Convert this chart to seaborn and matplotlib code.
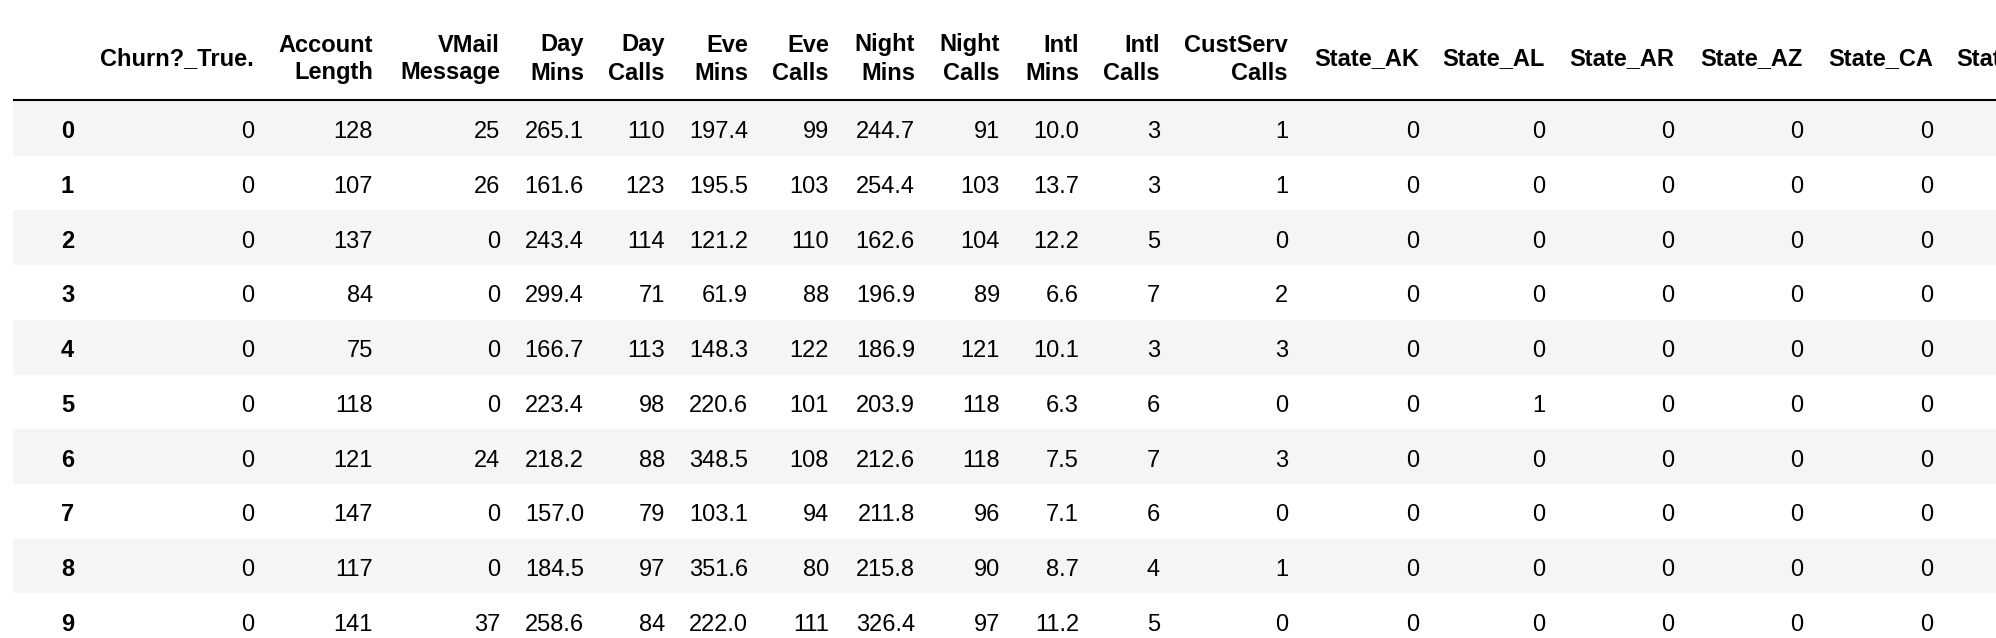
import matplotlib
matplotlib.use("Agg")
import matplotlib.pyplot as plt
import seaborn as sns

# table contents (first rows of the one-hot encoded churn frame)
index = [0, 1, 2, 3, 4, 5, 6, 7, 8, 9]
columns = ["Churn?_True.", "Account Length", "VMail Message", "Day Mins", "Day Calls",
           "Eve Mins", "Eve Calls", "Night Mins", "Night Calls", "Intl Mins", "Intl Calls",
           "CustServ Calls", "State_AK", "State_AL", "State_AR", "State_AZ", "State_CA",
           "State_CO"]

churn = [0, 0, 0, 0, 0, 0, 0, 0, 0, 0]
account_length = [128, 107, 137, 84, 75, 118, 121, 147, 117, 141]
vmail_message = [25, 26, 0, 0, 0, 0, 24, 0, 0, 37]
day_mins = [265.1, 161.6, 243.4, 299.4, 166.7, 223.4, 218.2, 157.0, 184.5, 258.6]
day_calls = [110, 123, 114, 71, 113, 98, 88, 79, 97, 84]
eve_mins = [197.4, 195.5, 121.2, 61.9, 148.3, 220.6, 348.5, 103.1, 351.6, 222.0]
eve_calls = [99, 103, 110, 88, 122, 101, 108, 94, 80, 111]
night_mins = [244.7, 254.4, 162.6, 196.9, 186.9, 203.9, 212.6, 211.8, 215.8, 326.4]
night_calls = [91, 103, 104, 89, 121, 118, 118, 96, 90, 97]
intl_mins = [10.0, 13.7, 12.2, 6.6, 10.1, 6.3, 7.5, 7.1, 8.7, 11.2]
intl_calls = [3, 3, 5, 7, 3, 6, 7, 6, 4, 5]
custserv_calls = [1, 1, 0, 2, 3, 0, 3, 0, 1, 0]
state_ak = [0, 0, 0, 0, 0, 0, 0, 0, 0, 0]
state_al = [0, 0, 0, 0, 0, 1, 0, 0, 0, 0]
state_ar = [0, 0, 0, 0, 0, 0, 0, 0, 0, 0]
state_az = [0, 0, 0, 0, 0, 0, 0, 0, 0, 0]
state_ca = [0, 0, 0, 0, 0, 0, 0, 0, 0, 0]
state_co = [0, 0, 0, 0, 0, 0, 0, 0, 0, 0]

values = [churn, account_length, vmail_message, day_mins, day_calls, eve_mins, eve_calls,
          night_mins, night_calls, intl_mins, intl_calls, custserv_calls, state_ak,
          state_al, state_ar, state_az, state_ca, state_co]

# layout in pixels
W, H = 1996, 638
col_right = [254, 373, 500, 584, 665, 748, 829, 915, 1000, 1079, 1160, 1288,
             1419, 1545, 1674, 1803, 1933, 2063]
index_left = 61
table_left = 13
header_bottom = 100
row_h = 54.7
baseline_off = 37.3
stripe = "#f5f5f5"

sns.set_theme(style="white")
plt.rcParams['font.family'] = ['Liberation Sans', 'DejaVu Sans']
fs = 17

fig = plt.figure(figsize=(W / 100, H / 100), dpi=100)
ax = fig.add_axes([0, 0, 1, 1])
ax.set_xlim(0, W)
ax.set_ylim(H, 0)
ax.axis("off")


def fmt(v):
    if isinstance(v, float):
        return "{:.1f}".format(v)
    return str(v)


# header
for name, x in zip(columns, col_right):
    parts = name.split(" ")
    if len(parts) == 1:
        ax.text(x, 65.5, name, ha="right", va="baseline", fontsize=fs,
                fontweight="bold", color="black")
    else:
        ax.text(x, 51.5, parts[0], ha="right", va="baseline", fontsize=fs,
                fontweight="bold", color="black")
        ax.text(x, 79.5, parts[1], ha="right", va="baseline", fontsize=fs,
                fontweight="bold", color="black")

ax.hlines(header_bottom, table_left, W, color="black", lw=1.5)

# body rows
for i, idx in enumerate(index):
    top = header_bottom + 1 + i * row_h
    if i % 2 == 0:
        ax.fill_between([table_left, W], top, top + row_h, color=stripe, lw=0)
    base = top + baseline_off
    ax.text(index_left, base, str(idx), ha="left", va="baseline", fontsize=fs,
            fontweight="bold", color="black")
    for col, x in zip(values, col_right):
        ax.text(x, base, fmt(col[i]), ha="right", va="baseline", fontsize=fs,
                color="black")

fig.savefig("out.png", dpi=100)
